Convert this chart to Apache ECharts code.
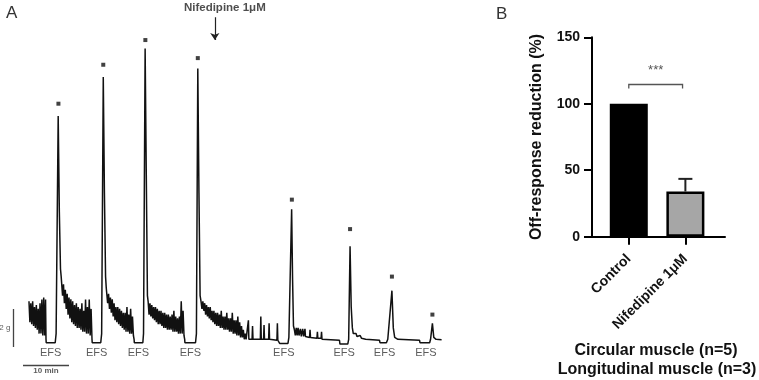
<!DOCTYPE html>
<html>
<head>
<meta charset="utf-8">
<script src="https://cdn.jsdelivr.net/npm/echarts@6/dist/echarts.min.js"></script>
<style>
html, body { margin: 0; padding: 0; background: #fff; }
#main { width: 759px; height: 380px; }
</style>
</head>
<body>
<div id="main"></div>
<script>
// ---- panel A : tension trace, time in min, force in g ----
var sampleStep = 0.2; // min between samples of the noisy stretches

var band1Start = 6.3;
var band1 = [2.3, 1.2, 2.2, 1.1, 2.3, 1.0, 2.0, 0.9, 2.1, 0.8, 1.9, 0.6, 2.2, 0.6, 2.4, 0.5, 2.5, 0.5, 2.4];
var efs1 = [[10.0, 0.3], [10.05, 0.12], [12.0, 0.12], [12.2, 0.6], [12.65, 12.05], [12.9, 7.0], [13.15, 4.0], [13.3, 3.6]];

var band2Start = 13.4;
var band2 = [3.5, 2.6, 3.2, 2.2, 2.9, 1.9, 2.7, 1.6, 2.5, 1.4, 2.4, 1.2, 2.3, 1.1, 2.1, 1.0, 2.2, 0.9, 2.0, 0.9,
             1.9, 0.8, 2.2, 0.7, 1.8, 0.7, 2.4, 0.6, 2.0, 0.6, 2.4, 0.5, 1.9];
var efs2 = [[20.0, 0.3], [20.05, 0.12], [21.9, 0.12], [22.1, 0.6], [22.45, 14.1], [22.7, 8.0], [22.95, 3.6], [23.1, 3.0]];

var band3Start = 23.2;
var band3 = [2.9, 2.2, 2.7, 1.9, 2.5, 1.7, 2.4, 1.5, 2.2, 1.3, 2.0, 1.2, 2.0, 1.1, 1.9, 1.0, 1.8, 0.9, 1.7, 0.8,
             1.7, 0.7, 2.0, 0.7, 1.6, 0.6, 1.9, 0.6, 1.5, 0.5];
var efs3 = [[29.15, 0.3], [29.2, 0.12], [31.05, 0.12], [31.2, 0.6], [31.55, 15.6], [31.8, 9.0], [32.05, 2.6], [32.2, 2.3]];

var band4Start = 32.4;
var band4 = [1.6, 2.2, 1.5, 2.1, 1.4, 2.0, 1.3, 2.0, 1.2, 1.9, 1.1, 1.8, 1.1, 1.8, 1.0, 1.7, 0.9, 1.7, 0.9, 1.6,
             0.8, 1.6, 0.8, 1.5, 0.8, 1.6, 0.7, 1.8, 0.7, 1.5, 0.7, 1.4, 0.6, 1.5, 0.6, 2.3, 0.6, 1.8, 0.5];
var efs4 = [[40.15, 0.3], [40.2, 0.12], [42.5, 0.12], [42.7, 0.6], [43.0, 14.55], [43.25, 8.0], [43.5, 2.6], [43.7, 2.3]];

var band5Start = 43.9;
var band5 = [1.9, 2.3, 1.8, 2.2, 1.6, 2.1, 1.5, 2.0, 1.4, 2.0, 1.3, 1.8, 1.2, 1.8, 1.1, 1.7, 1.0, 1.7, 1.0, 1.6,
             0.9, 1.8, 0.9, 1.5, 0.8, 1.5, 0.8, 1.7, 0.8, 1.4, 0.7, 1.4, 0.7, 1.7, 0.6, 1.3, 0.6, 1.3, 0.5, 1.5,
             0.5, 1.2, 0.4, 1.0, 0.4, 0.8, 0.3, 0.6];
// after nifedipine
var efs5 = [[53.5, 0.3], [53.9, 0.3], [54.0, 1.3], [54.1, 0.3], [54.8, 0.3], [54.9, 1.0], [55.0, 0.3], [56.6, 0.3],
            [56.7, 1.5], [56.8, 0.3], [57.3, 0.3], [57.4, 1.05], [57.5, 0.3], [58.4, 0.3], [58.5, 1.15], [58.6, 0.3],
            [60.2, 0.25], [60.3, 1.15], [60.4, 0.25], [60.7, 0.25], [60.8, 0.08], [62.6, 0.08], [62.8, 0.4],
            [63.4, 7.15], [63.6, 3.5], [63.8, 1.0]];
var efs6 = [[64.0, 0.8], [64.2, 0.5], [64.4, 0.9], [64.6, 0.5], [64.8, 0.9], [65.0, 0.5], [65.3, 0.85], [65.5, 0.45],
            [65.8, 0.85], [66.0, 0.45], [66.3, 0.85], [66.4, 0.45], [67.3, 0.4], [67.4, 0.8], [67.5, 0.4], [68.9, 0.35],
            [69.0, 0.7], [69.1, 0.35], [69.8, 0.35], [69.9, 0.7], [70.0, 0.3], [73.8, 0.25], [73.9, 0.05], [75.6, 0.05],
            [75.8, 0.3], [76.1, 5.2], [76.35, 2.0], [76.6, 0.9]];
var efs7 = [[76.8, 0.6], [77.0, 0.7], [77.2, 0.5], [77.4, 0.6], [77.6, 0.45], [77.8, 0.55], [78.0, 0.4], [78.3, 0.5],
            [78.6, 0.35], [79.5, 0.3], [82.5, 0.25], [82.6, 0.12], [84.0, 0.12], [84.3, 0.3], [85.2, 2.86], [85.5, 0.9],
            [85.8, 0.4], [86.5, 0.3]];
var efs8 = [[91.2, 0.25], [91.3, 0.12], [93.4, 0.12], [93.6, 0.3], [94.0, 1.14], [94.3, 0.4], [94.8, 0.3], [96.0, 0.28]];

var efsTimes = [11.0, 21.0, 30.1, 41.4, 61.7, 74.8, 83.6, 92.6];
var efsLevel = 0.1;
var peakMarks = [[12.7, 12.7], [22.45, 14.75], [31.6, 16.05], [43.0, 15.1], [63.45, 7.65], [76.1, 6.1], [85.2, 3.6], [94.0, 1.6]];
var drugTime = 46.7;
var drugLabel = 'Nifedipine 1μM';

// ---- panel B : off-response reduction ----
var groups = ['Control', 'Nifedipine 1μM'];
var means = [100, 34];
var sems = [0, 9.5];
var sigLevel = 114.5;
var sigMark = '***';

var FONT = '"Liberation Sans", Arial, sans-serif';

// build the trace
var trace = [];
function addBand(start, vals) {
    vals.forEach(function (v, i) {
        trace.push([+(start + i * sampleStep).toFixed(2), v]);
    });
}
addBand(band1Start, band1); trace = trace.concat(efs1);
addBand(band2Start, band2); trace = trace.concat(efs2);
addBand(band3Start, band3); trace = trace.concat(efs3);
addBand(band4Start, band4); trace = trace.concat(efs4);
addBand(band5Start, band5); trace = trace.concat(efs5, efs6, efs7, efs8);

var chart = echarts.init(document.getElementById('main'), null, {renderer: 'canvas'});

var option = {
    animation: false,
    backgroundColor: '#fff',
    textStyle: {fontFamily: FONT},
    grid: [
        {left: 0, width: 460, top: 3, height: 370.5},
        {left: 592, width: 133, top: 37.3, height: 199.4}
    ],
    xAxis: [
        {gridIndex: 0, type: 'value', min: 0, max: 100, show: false},
        {
            gridIndex: 1, type: 'value', min: -0.65, max: 1.7,
            axisLine: {lineStyle: {color: '#000', width: 2}},
            axisTick: {customValues: [0, 1], length: 8, lineStyle: {color: '#000', width: 2}},
            axisLabel: {
                customValues: [0, 1], rotate: 45, margin: 20,
                fontWeight: 'bold', fontSize: 14, color: '#111', fontFamily: FONT,
                formatter: function (v) { return groups[Math.round(v)]; }
            },
            splitLine: {show: false}
        }
    ],
    yAxis: [
        {gridIndex: 0, type: 'value', min: -1.5, max: 18, show: false},
        {
            gridIndex: 1, type: 'value', min: 0, max: 150, interval: 50,
            name: 'Off-response reduction (%)', nameLocation: 'middle', nameGap: 47,
            nameTextStyle: {fontWeight: 'bold', fontSize: 16, color: '#111', fontFamily: FONT},
            axisLine: {show: true, onZero: false, lineStyle: {color: '#000', width: 2}},
            axisTick: {show: true, length: 8, lineStyle: {color: '#000', width: 2}},
            axisLabel: {fontWeight: 'bold', fontSize: 14, color: '#111', margin: 12, fontFamily: FONT},
            splitLine: {show: false}
        }
    ],
    series: [
        // trace
        {
            type: 'line', xAxisIndex: 0, yAxisIndex: 0,
            data: trace, showSymbol: false, symbol: 'none', sampling: null,
            lineStyle: {color: '#111', width: 1.5}
        },
        // response markers
        {
            type: 'scatter', xAxisIndex: 0, yAxisIndex: 0,
            data: peakMarks, symbol: 'rect', symbolSize: 4,
            itemStyle: {color: '#111'}
        },
        // EFS labels
        {
            type: 'scatter', xAxisIndex: 0, yAxisIndex: 0,
            data: efsTimes.map(function (t) { return [t, efsLevel]; }),
            symbolSize: 0,
            label: {show: true, position: 'bottom', distance: 4, formatter: 'EFS',
                    fontSize: 11, color: '#333', fontFamily: FONT}
        },
        // drug arrow + scale bars
        {
            type: 'lines', coordinateSystem: 'cartesian2d', xAxisIndex: 0, yAxisIndex: 0,
            data: [{coords: [[drugTime, 17.25], [drugTime, 16.05]]}],
            symbol: ['none', 'arrow'], symbolSize: 7,
            lineStyle: {color: '#222', width: 1.2, opacity: 1}
        },
        {
            type: 'lines', coordinateSystem: 'cartesian2d', xAxisIndex: 0, yAxisIndex: 0,
            data: [{coords: [[2.9, -0.1], [2.9, 1.9]]}, {coords: [[5, -1.05], [15, -1.05]]}],
            symbol: 'none',
            lineStyle: {color: '#444', width: 1.3, opacity: 1}
        },
        {
            type: 'scatter', xAxisIndex: 0, yAxisIndex: 0, symbolSize: 0,
            data: [
                {value: [drugTime, 17.75], label: {formatter: drugLabel, position: 'inside', offset: [10, 0],
                    fontWeight: 'bold', fontSize: 11.5, color: '#222'}},
                {value: [2.9, 0.9], label: {formatter: '2 g', position: 'left', distance: 3, fontSize: 8, color: '#333'}},
                {value: [10, -1.05], label: {formatter: '10 min', position: 'bottom', distance: 2, fontSize: 8,
                    fontWeight: 'bold', color: '#333'}}
            ],
            label: {show: true, fontFamily: FONT}
        },
        // panel B bars
        {
            type: 'bar', xAxisIndex: 1, yAxisIndex: 1, barWidth: 38,
            data: means.map(function (m, i) {
                return {
                    value: [i, m],
                    itemStyle: {color: i ? '#a6a6a6' : '#000', borderColor: '#000', borderWidth: i ? 2.5 : 0}
                };
            })
        },
        // error bars (upper)
        {
            type: 'custom', xAxisIndex: 1, yAxisIndex: 1, z: 3,
            data: means.map(function (m, i) { return [i, m, sems[i]]; }),
            renderItem: function (params, api) {
                var e = api.value(2);
                if (!e) return;
                var p0 = api.coord([api.value(0), api.value(1)]);
                var p1 = api.coord([api.value(0), api.value(1) + e]);
                var st = {stroke: '#222', lineWidth: 2};
                return {
                    type: 'group', children: [
                        {type: 'line', shape: {x1: p0[0], y1: p0[1], x2: p1[0], y2: p1[1]}, style: st},
                        {type: 'line', shape: {x1: p1[0] - 7, y1: p1[1], x2: p1[0] + 7, y2: p1[1]}, style: st}
                    ]
                };
            }
        },
        // significance bracket
        {
            type: 'custom', xAxisIndex: 1, yAxisIndex: 1,
            data: [[0, 0.95, sigLevel]],
            renderItem: function (params, api) {
                var a = api.coord([api.value(0), api.value(2)]);
                var b = api.coord([api.value(1), api.value(2)]);
                var drop = 4;
                return {
                    type: 'group', children: [
                        {type: 'polyline', shape: {points: [[a[0], a[1] + drop], a, b, [b[0], b[1] + drop]]},
                         style: {stroke: '#555', lineWidth: 1.3, fill: null}},
                        {type: 'text', x: (a[0] + b[0]) / 2, y: a[1] - 14,
                         style: {text: sigMark, fontSize: 13, fill: '#555', align: 'center', verticalAlign: 'middle',
                                 fontFamily: FONT}}
                    ]
                };
            }
        }
    ],
    graphic: [
        {type: 'text', left: 6, top: 5, style: {text: 'A', fontSize: 17, fill: '#333', fontFamily: FONT}},
        {type: 'text', left: 496, top: 6, style: {text: 'B', fontSize: 17, fill: '#333', fontFamily: FONT}},
        {type: 'text', x: 656, y: 351, style: {text: 'Circular muscle (n=5)', fontSize: 16, fontWeight: 'bold',
            fill: '#111', align: 'center', verticalAlign: 'middle', fontFamily: FONT}},
        {type: 'text', x: 657, y: 370, style: {text: 'Longitudinal muscle (n=3)', fontSize: 16, fontWeight: 'bold',
            fill: '#111', align: 'center', verticalAlign: 'middle', fontFamily: FONT}}
    ]
};

chart.setOption(option);
</script>
</body>
</html>
